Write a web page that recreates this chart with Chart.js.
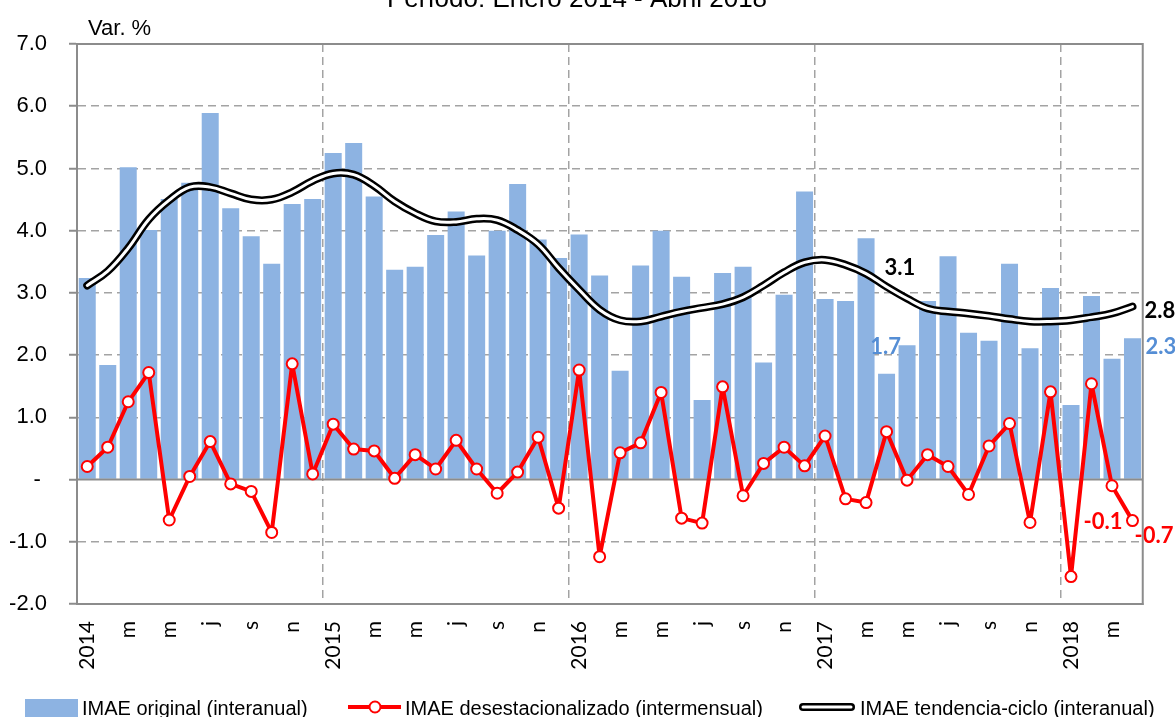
<!DOCTYPE html>
<html><head><meta charset="utf-8">
<script src="https://cdn.jsdelivr.net/npm/chart.js@4.4.1/dist/chart.umd.min.js"></script>
<style>html,body{margin:0;padding:0;background:#fff;overflow:hidden}canvas{display:block}</style>
</head><body>
<canvas id="c" width="1175" height="717"></canvas>
<script>
// ---- DATA ----
const xTickLabels = [
  '2014','','m','','m','','j','','s','','n','',
  '2015','','m','','m','','j','','s','','n','',
  '2016','','m','','m','','j','','s','','n','',
  '2017','','m','','m','','j','','s','','n','',
  '2018','','m',''
];
const imaeOriginal = [
  3.24, 1.84, 5.02, 4.01, 4.51, 4.77, 5.89, 4.36, 3.91, 3.47, 4.43, 4.51,
  5.25, 5.41, 4.55, 3.37, 3.42, 3.93, 4.31, 3.60, 4.00, 4.75, 3.86, 3.56,
  3.94, 3.28, 1.75, 3.44, 4.00, 3.26, 1.28, 3.32, 3.42, 1.88, 2.97, 4.63,
  2.90, 2.87, 3.88, 1.70, 2.16, 2.87, 3.59, 2.36, 2.23, 3.47, 2.11, 3.08,
  1.20, 2.95, 1.94, 2.27
];
const imaeDesestacionalizado = [
  0.21, 0.52, 1.25, 1.72, -0.65, 0.05, 0.61, -0.07, -0.19, -0.85, 1.86, 0.09,
  0.89, 0.49, 0.46, 0.02, 0.40, 0.17, 0.63, 0.17, -0.22, 0.12, 0.68, -0.46,
  1.76, -1.24, 0.43, 0.59, 1.40, -0.62, -0.70, 1.49, -0.26, 0.26, 0.52, 0.22,
  0.70, -0.31, -0.37, 0.77, -0.01, 0.40, 0.21, -0.24, 0.54, 0.90, -0.69, 1.41,
  -1.56, 1.54, -0.10, -0.66
];
const imaeTendencia = [
  3.12, 3.35, 3.72, 4.18, 4.49, 4.70, 4.70, 4.60, 4.50, 4.50, 4.62, 4.80,
  4.92, 4.90, 4.72, 4.47, 4.28, 4.15, 4.14, 4.19, 4.17, 4.01, 3.78, 3.40,
  3.05, 2.73, 2.56, 2.54, 2.62, 2.70, 2.76, 2.82, 2.93, 3.12, 3.33, 3.49,
  3.53, 3.45, 3.31, 3.10, 2.91, 2.75, 2.70, 2.67, 2.63, 2.58, 2.54, 2.54,
  2.56, 2.61, 2.67, 2.78
];
const yTickValues = [-2, -1, 0, 1, 2, 3, 4, 5, 6, 7];
const yTickLabels = ['-2.0', '-1.0', '- ', '1.0', '2.0', '3.0', '4.0', '5.0', '6.0', '7.0'];
const legendLabels = ['IMAE original (interanual)', 'IMAE desestacionalizado (intermensual)', 'IMAE tendencia-ciclo (interanual)'];
const titleText = 'Período: Enero 2014 - Abril 2018';
const yAxisTitle = 'Var. %';

// ---- STYLE ----
const BAR = '#8DB3E2', RED = '#FF0000', AXIS = '#8c8c8c', GRID = '#a3a3a3', LBLUE = '#558ED5';
const SANS = '"Liberation Sans", Arial, sans-serif';

const deco = {
  id: 'deco',
  afterDatasetDraw(chart, args) {
    if (args.index !== 0) return;
    const {ctx, chartArea: a, scales: {y}} = chart;
    const y0 = y.getPixelForValue(0);
    ctx.save();
    ctx.strokeStyle = AXIS; ctx.lineWidth = 2;
    ctx.beginPath(); ctx.moveTo(a.left, y0); ctx.lineTo(a.right, y0); ctx.stroke();
    ctx.restore();
  },
  afterDatasetsDraw(chart) {
    const {ctx, scales: {x, y}} = chart;
    const last = imaeOriginal.length - 1;
    const aprPrev = last - 12;
    const px = i => x.getPixelForValue(i);
    const py = v => y.getPixelForValue(v);
    ctx.save();
    ctx.font = 'bold 22px Lato, "Liberation Sans", sans-serif';
    ctx.textBaseline = 'middle';
    const put = (t, xx, yy, color, align) => { ctx.fillStyle = color; ctx.textAlign = align; ctx.fillText(t, xx, yy); };
    put(imaeTendencia[aprPrev].toFixed(1), px(aprPrev) - 2, py(imaeTendencia[aprPrev]) - 19, '#000', 'left');
    put(imaeTendencia[last].toFixed(1), px(last) + 12, py(imaeTendencia[last]) + 4, '#000', 'left');
    put(imaeOriginal[aprPrev].toFixed(1), px(aprPrev) - 1, py(imaeOriginal[aprPrev]) - 27, LBLUE, 'center');
    put(imaeOriginal[last].toFixed(1), px(last) + 13, py(imaeOriginal[last]) + 9, LBLUE, 'left');
    put(imaeDesestacionalizado[last - 1].toFixed(1), px(last - 1) - 9, py(imaeDesestacionalizado[last - 1]) + 36, RED, 'center');
    put(imaeDesestacionalizado[last].toFixed(1), px(last) + 2, py(imaeDesestacionalizado[last]) + 15, RED, 'left');
    ctx.restore();
  },
  afterDraw(chart) {
    const {ctx, chartArea: a} = chart;
    ctx.save();
    // plot border
    ctx.strokeStyle = AXIS; ctx.lineWidth = 2;
    ctx.strokeRect(a.left, a.top, a.right - a.left, a.bottom - a.top);
    // title (cut at top) and y-axis title
    ctx.fillStyle = '#000';
    ctx.font = '26px ' + SANS;
    ctx.textAlign = 'center'; ctx.textBaseline = 'alphabetic';
    ctx.fillText(titleText, 577, 7);
    ctx.font = '22px ' + SANS;
    ctx.textAlign = 'left';
    ctx.fillText(yAxisTitle, 88, 35);
    // legend
    const ly = 707;
    ctx.fillStyle = BAR; ctx.fillRect(25, 699, 53, 20);
    ctx.strokeStyle = RED; ctx.lineWidth = 4; ctx.lineCap = 'butt';
    ctx.beginPath(); ctx.moveTo(348, ly); ctx.lineTo(401, ly); ctx.stroke();
    ctx.fillStyle = '#fff'; ctx.lineWidth = 2;
    ctx.beginPath(); ctx.arc(375, ly, 5.5, 0, Math.PI * 2); ctx.fill(); ctx.stroke();
    ctx.lineCap = 'round';
    ctx.strokeStyle = '#000'; ctx.lineWidth = 8;
    ctx.beginPath(); ctx.moveTo(803, ly); ctx.lineTo(851, ly); ctx.stroke();
    ctx.strokeStyle = '#fff'; ctx.lineWidth = 3;
    ctx.beginPath(); ctx.moveTo(803, ly); ctx.lineTo(851, ly); ctx.stroke();
    ctx.fillStyle = '#000';
    ctx.font = '20px ' + SANS;
    ctx.textAlign = 'left'; ctx.textBaseline = 'alphabetic';
    ctx.fillText(legendLabels[0], 82, 715);
    ctx.fillText(legendLabels[1], 405, 715);
    ctx.fillText(legendLabels[2], 860, 715);
    ctx.restore();
  }
};

const N = imaeOriginal.length;
new Chart(document.getElementById('c'), {
  type: 'bar',
  data: {
    labels: xTickLabels,
    datasets: [
      { type: 'bar', label: legendLabels[0], data: imaeOriginal, backgroundColor: BAR,
        barPercentage: 0.83, categoryPercentage: 1.0, order: 3 },
      { type: 'line', label: legendLabels[2], data: imaeTendencia, borderColor: '#000', borderWidth: 8,
        pointRadius: 0, tension: 0.4, borderCapStyle: 'round', borderJoinStyle: 'round', fill: false, order: 2 },
      { type: 'line', label: legendLabels[2] + ' (in)', data: imaeTendencia, borderColor: '#fff', borderWidth: 3,
        pointRadius: 0, tension: 0.4, borderCapStyle: 'round', borderJoinStyle: 'round', fill: false, order: 1 },
      { type: 'line', label: legendLabels[1], data: imaeDesestacionalizado, borderColor: RED, borderWidth: 4,
        pointRadius: 5.5, pointBorderWidth: 2, pointBackgroundColor: '#fff', pointBorderColor: RED,
        borderJoinStyle: 'round', tension: 0, fill: false, order: 0 }
    ]
  },
  options: {
    responsive: false, animation: false, devicePixelRatio: 1, events: [],
    layout: { padding: { top: 44, right: 32, left: 0, bottom: 0 } },
    plugins: { legend: { display: false }, tooltip: { enabled: false }, title: { display: false } },
    scales: {
      x: {
        offset: true,
        afterFit: s => { s.height = 113; },
        grid: {
          offset: true, drawTicks: false, lineWidth: 1.5,
          color: c => (c.index > 0 && c.index < N && c.index % 12 === 0) ? GRID : 'rgba(0,0,0,0)'
        },
        border: { display: true, color: AXIS, width: 2, dash: [8, 5] },
        ticks: {
          autoSkip: false, minRotation: 90, maxRotation: 90, padding: 17,
          color: '#000', font: { family: 'Lato', size: 21 }
        }
      },
      y: {
        min: -2, max: 7,
        afterFit: s => { s.width = 77; },
        afterBuildTicks: s => { s.ticks = yTickValues.map(v => ({ value: v })); },
        grid: {
          lineWidth: 1.5, drawTicks: true, tickLength: 8, tickColor: AXIS, tickWidth: 2,
          color: c => { const v = c.tick && c.tick.value; return (v === 0 || v === 7 || v === -2) ? 'rgba(0,0,0,0)' : GRID; }
        },
        border: { display: true, color: AXIS, width: 2, dash: [8, 5] },
        ticks: {
          padding: 22, color: '#000', font: { family: 'Liberation Sans', size: 22 },
          callback: v => yTickLabels[yTickValues.indexOf(v)]
        }
      }
    }
  },
  plugins: [deco]
});
</script>
</body></html>
